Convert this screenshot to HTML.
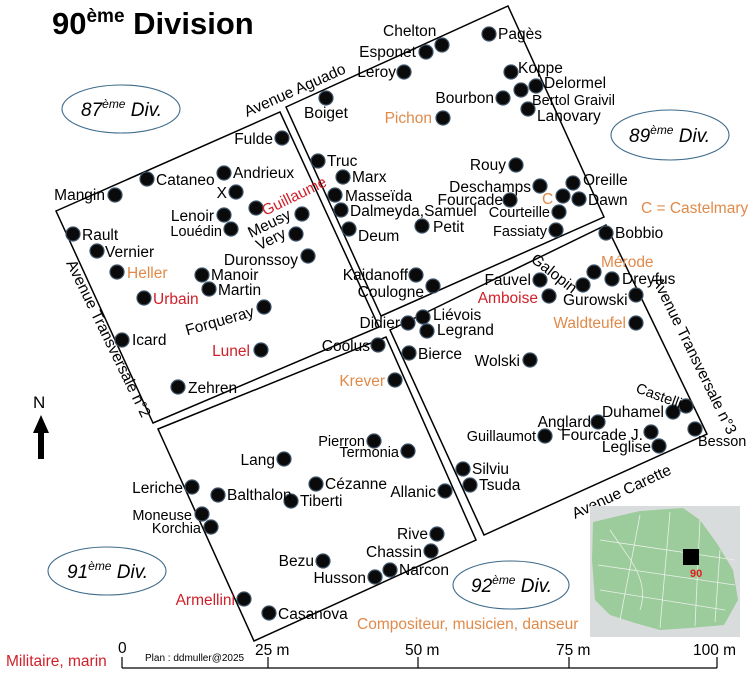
<!DOCTYPE html>
<html><head><meta charset="utf-8"><style>
html,body{margin:0;padding:0;background:#fff;}
svg{display:block;font-family:"Liberation Sans",Arial,sans-serif;}
.d{fill:#0a0a0a;stroke:#3c5266;stroke-width:1.2;}
text{font-size:15.5px;fill:#000;}
.s{font-size:14.5px;}
.r{fill:#d0202a;}
.o{fill:#e08a4a;}
.e{text-anchor:end;}
</style></head><body>
<svg width="755" height="680" viewBox="0 0 755 680" xmlns="http://www.w3.org/2000/svg">
<text x="52" y="34" style="font-size:31px;font-weight:bold">90<tspan dy="-12" style="font-size:19px">ème</tspan><tspan dy="12"> Division</tspan></text>

<g fill="none" stroke="#000" stroke-width="1.5">
<polygon points="56,211 280,112 379,327 153,423"/>
<polygon points="286,107 508,6 604,217 381,316"/>
<polygon points="390,330 606,225 707,434 484,535"/>
<polygon points="158,429 386,337 476,540 254,641"/>
</g>

<g fill="none" stroke="#3e6a8a" stroke-width="1.1">
<ellipse cx="121" cy="109" rx="59" ry="24"/>
<ellipse cx="670" cy="135" rx="59" ry="25"/>
<ellipse cx="107" cy="571" rx="59" ry="24"/>
<ellipse cx="511" cy="585" rx="58" ry="24"/>
</g>
<g style="font-style:italic">
<text x="81" y="116" style="font-size:19px">87<tspan dy="-8" style="font-size:12px">ème</tspan><tspan dy="8"> Div.</tspan></text>
<text x="629" y="142" style="font-size:19px">89<tspan dy="-8" style="font-size:12px">ème</tspan><tspan dy="8"> Div.</tspan></text>
<text x="67" y="578" style="font-size:19px">91<tspan dy="-8" style="font-size:12px">ème</tspan><tspan dy="8"> Div.</tspan></text>
<text x="471" y="592" style="font-size:19px">92<tspan dy="-8" style="font-size:12px">ème</tspan><tspan dy="8"> Div.</tspan></text>
</g>

<text transform="translate(247,117) rotate(-24)">Avenue Aguado</text>
<text transform="translate(66,263) rotate(64)">Avenue Transversale n°2</text>
<text transform="translate(575,519) rotate(-25)">Avenue Carette</text>
<text transform="translate(652,280) rotate(64)">Avenue Transversale n°3</text>
<text transform="translate(530,261) rotate(38)">Galopin</text>

<g>
<rect x="590" y="506" width="150" height="131" fill="#d9dcdc"/>
<path d="M593,522 L640,511 L683,508 L700,520 L718,545 L733,570 L738,600 L724,625 L690,628 L660,630 L635,623 L610,615 L595,600 L592,560 Z" fill="#9ccb9c"/>
<g stroke="#e8f2e8" stroke-width="0.8" fill="none">
<path d="M600,540 L735,560 M598,565 L735,585 M600,590 L725,610 M640,515 L620,620 M670,512 L660,628 M700,520 L695,626 M720,550 L715,622 M610,530 C630,560 650,580 640,610"/>
</g>
<rect x="683" y="549" width="16" height="16" fill="#000"/>
<text x="690" y="577" style="font-size:11px;font-weight:bold;fill:#e02020">90</text>
</g>

<g>
<circle class="d" cx="282" cy="138" r="7"/>
<circle class="d" cx="147" cy="179" r="7"/>
<circle class="d" cx="224" cy="173" r="7"/>
<circle class="d" cx="236" cy="192" r="7"/>
<circle class="d" cx="115" cy="195" r="7"/>
<circle class="d" cx="256" cy="208" r="7"/>
<circle class="d" cx="224" cy="215" r="7"/>
<circle class="d" cx="231" cy="229" r="7"/>
<circle class="d" cx="302" cy="214" r="7"/>
<circle class="d" cx="296" cy="234" r="7"/>
<circle class="d" cx="308" cy="256" r="7"/>
<circle class="d" cx="73" cy="234" r="7"/>
<circle class="d" cx="97" cy="251" r="7"/>
<circle class="d" cx="117" cy="272" r="7"/>
<circle class="d" cx="202" cy="275" r="7"/>
<circle class="d" cx="209" cy="289" r="7"/>
<circle class="d" cx="144" cy="298" r="7"/>
<circle class="d" cx="264" cy="307" r="7"/>
<circle class="d" cx="122" cy="340" r="7"/>
<circle class="d" cx="261" cy="350" r="7"/>
<circle class="d" cx="178" cy="387" r="7"/>
<circle class="d" cx="326" cy="98" r="7"/>
<circle class="d" cx="404" cy="72" r="7"/>
<circle class="d" cx="426" cy="52" r="7"/>
<circle class="d" cx="442" cy="45" r="7"/>
<circle class="d" cx="489" cy="34" r="7"/>
<circle class="d" cx="511" cy="72" r="7"/>
<circle class="d" cx="536" cy="86" r="7"/>
<circle class="d" cx="521" cy="90" r="7"/>
<circle class="d" cx="503" cy="98" r="7"/>
<circle class="d" cx="528" cy="109" r="7"/>
<circle class="d" cx="443" cy="118" r="7"/>
<circle class="d" cx="516" cy="165" r="7"/>
<circle class="d" cx="318" cy="161" r="7"/>
<circle class="d" cx="343" cy="177" r="7"/>
<circle class="d" cx="335" cy="195" r="7"/>
<circle class="d" cx="341" cy="210" r="7"/>
<circle class="d" cx="349" cy="229" r="7"/>
<circle class="d" cx="422" cy="226" r="7"/>
<circle class="d" cx="540" cy="186" r="7"/>
<circle class="d" cx="510" cy="200" r="7"/>
<circle class="d" cx="563" cy="196" r="7"/>
<circle class="d" cx="573" cy="183" r="7"/>
<circle class="d" cx="579" cy="199" r="7"/>
<circle class="d" cx="559" cy="212" r="7"/>
<circle class="d" cx="556" cy="230" r="7"/>
<circle class="d" cx="416" cy="275" r="7"/>
<circle class="d" cx="433" cy="286" r="7"/>
<circle class="d" cx="606" cy="233" r="7"/>
<circle class="d" cx="594" cy="272" r="7"/>
<circle class="d" cx="612" cy="279" r="7"/>
<circle class="d" cx="583" cy="285" r="7"/>
<circle class="d" cx="540" cy="280" r="7"/>
<circle class="d" cx="549" cy="296" r="7"/>
<circle class="d" cx="636" cy="295" r="7"/>
<circle class="d" cx="636" cy="323" r="7"/>
<circle class="d" cx="408" cy="323" r="7"/>
<circle class="d" cx="423" cy="317" r="7"/>
<circle class="d" cx="427" cy="331" r="7"/>
<circle class="d" cx="409" cy="353" r="7"/>
<circle class="d" cx="530" cy="360" r="7"/>
<circle class="d" cx="686" cy="406" r="7"/>
<circle class="d" cx="673" cy="412" r="7"/>
<circle class="d" cx="598" cy="422" r="7"/>
<circle class="d" cx="545" cy="436" r="7"/>
<circle class="d" cx="651" cy="432" r="7"/>
<circle class="d" cx="659" cy="446" r="7"/>
<circle class="d" cx="695" cy="429" r="7"/>
<circle class="d" cx="463" cy="469" r="7"/>
<circle class="d" cx="470" cy="485" r="7"/>
<circle class="d" cx="378" cy="345" r="7"/>
<circle class="d" cx="395" cy="380" r="7"/>
<circle class="d" cx="374" cy="441" r="7"/>
<circle class="d" cx="408" cy="451" r="7"/>
<circle class="d" cx="284" cy="459" r="7"/>
<circle class="d" cx="316" cy="484" r="7"/>
<circle class="d" cx="291" cy="501" r="7"/>
<circle class="d" cx="192" cy="487" r="7"/>
<circle class="d" cx="218" cy="495" r="7"/>
<circle class="d" cx="202" cy="514" r="7"/>
<circle class="d" cx="211" cy="527" r="7"/>
<circle class="d" cx="445" cy="491" r="7"/>
<circle class="d" cx="437" cy="534" r="7"/>
<circle class="d" cx="431" cy="551" r="7"/>
<circle class="d" cx="390" cy="570" r="7"/>
<circle class="d" cx="375" cy="577" r="7"/>
<circle class="d" cx="323" cy="561" r="7"/>
<circle class="d" cx="244" cy="599" r="7"/>
<circle class="d" cx="269" cy="613" r="7"/>
</g>

<text class="e" x="273" y="144">Fulde</text>
<text x="156" y="185">Cataneo</text>
<text x="233" y="178">Andrieux</text>
<text class="e" x="227" y="198">X</text>
<text class="e" x="105" y="200">Mangin</text>
<text class="r" transform="translate(265,216) rotate(-26)">Guillaume</text>
<text class="e" x="214" y="221">Lenoir</text>
<text class="e s" x="222" y="236">Louédin</text>
<text class="e" transform="translate(292,218) rotate(-26)">Meusy</text>
<text class="e" transform="translate(287,237) rotate(-26)">Very</text>
<text class="e" x="298" y="265">Duronssoy</text>
<text x="82" y="240">Rault</text>
<text x="105" y="257">Vernier</text>
<text class="o" x="127" y="278">Heller</text>
<text x="211" y="280">Manoir</text>
<text x="218" y="295">Martin</text>
<text class="r" x="153" y="304">Urbain</text>
<text class="e" transform="translate(255,316) rotate(-16)">Forqueray</text>
<text x="132" y="345">Icard</text>
<text class="e r" x="250" y="356">Lunel</text>
<text x="188" y="393">Zehren</text>

<text x="304" y="118">Boiget</text>
<text class="e" x="396" y="77">Leroy</text>
<text class="e" x="416" y="57">Esponet</text>
<text x="383" y="36">Chelton</text>
<text x="498" y="39">Pagès</text>
<text x="518" y="73">Koppe</text>
<text x="544" y="88">Delormel</text>
<text class="e" x="494" y="103">Bourbon</text>
<text class="s" x="532" y="105">Bertol Graivil</text>
<text x="537" y="121">Lanovary</text>
<text class="e o" x="432" y="123">Pichon</text>
<text class="e" x="506" y="170">Rouy</text>
<text x="327" y="166">Truc</text>
<text x="352" y="182">Marx</text>
<text x="345" y="201">Masseïda</text>
<text x="350" y="216">Dalmeyda,Samuel</text>
<text x="433" y="232">Petit</text>
<text x="358" y="241">Deum</text>
<text class="e" x="531" y="192">Deschamps</text>
<text class="e" x="503" y="205">Fourcade</text>
<text class="o" x="542" y="204">C</text>
<text x="583" y="185">Oreille</text>
<text x="588" y="205">Dawn</text>
<text class="e s" x="550" y="217">Courteille</text>
<text class="e s" x="547" y="236">Fassiaty</text>
<text class="e" x="408" y="280">Kaidanoff</text>
<text class="e" x="424" y="297">Coulogne</text>
<text class="o" x="641" y="213">C = Castelmary</text>

<text x="615" y="238">Bobbio</text>
<text class="o" x="601" y="267">Mérode</text>
<text x="622" y="284">Dreyfus</text>
<text x="563" y="305">Gurowski</text>
<text class="e" x="531" y="285">Fauvel</text>
<text class="e r" x="538" y="303">Amboise</text>
<text class="e o" x="626" y="328">Waldteufel</text>
<text class="e" x="400" y="328">Didier</text>
<text x="433" y="320">Liévois</text>
<text x="437" y="335">Legrand</text>
<text x="418" y="359">Bierce</text>
<text class="e" x="520" y="366">Wolski</text>
<text class="s" transform="translate(635,392) rotate(20)">Castelli</text>
<text class="e" x="664" y="417">Duhamel</text>
<text class="e" x="591" y="427">Anglard</text>
<text class="e s" x="536" y="441">Guillaumot</text>
<text class="e" x="643" y="440">Fourcade J.</text>
<text class="e" x="651" y="452">Leglise</text>
<text class="s" x="698" y="446">Besson</text>
<text x="472" y="474">Silviu</text>
<text x="479" y="490">Tsuda</text>

<text class="e" x="370" y="351">Coolus</text>
<text class="e o" x="385" y="386">Krever</text>
<text class="e s" x="365" y="446">Pierron</text>
<text class="e s" x="399" y="457">Termonia</text>
<text class="e" x="275" y="465">Lang</text>
<text x="325" y="489">Cézanne</text>
<text x="300" y="506">Tiberti</text>
<text class="e" x="183" y="493">Leriche</text>
<text x="227" y="500">Balthalon</text>
<text class="e s" x="192" y="520">Moneuse</text>
<text class="e s" x="201" y="533">Korchia</text>
<text class="e" x="436" y="497">Allanic</text>
<text class="e" x="428" y="539">Rive</text>
<text class="e" x="422" y="557">Chassin</text>
<text x="399" y="575">Narcon</text>
<text class="e" x="366" y="583">Husson</text>
<text class="e" x="314" y="566">Bezu</text>
<text class="e r" x="235" y="605">Armellini</text>
<text x="278" y="619">Casanova</text>

<text class="o" x="357" y="629">Compositeur, musicien, danseur</text>
<text class="r" x="6" y="666">Militaire, marin</text>

<text x="33" y="408" style="font-size:17px">N</text>
<polygon points="41,415 33,433 38,433 38,459 44,459 44,433 49,433" fill="#000"/>

<g stroke="#000" stroke-width="1.2">
<line x1="122" y1="668" x2="717" y2="668"/>
<line x1="122" y1="657" x2="122" y2="668"/>
<line x1="268" y1="657" x2="268" y2="668"/>
<line x1="418" y1="657" x2="418" y2="668"/>
<line x1="569" y1="657" x2="569" y2="668"/>
<line x1="717" y1="657" x2="717" y2="668"/>
</g>
<text x="118" y="653">0</text>
<text x="255" y="655">25 m</text>
<text x="405" y="655">50 m</text>
<text x="556" y="655">75 m</text>
<text x="693" y="655">100 m</text>
<text x="145" y="661" style="font-size:10px">Plan : ddmuller@2025</text>
</svg>
</body></html>
